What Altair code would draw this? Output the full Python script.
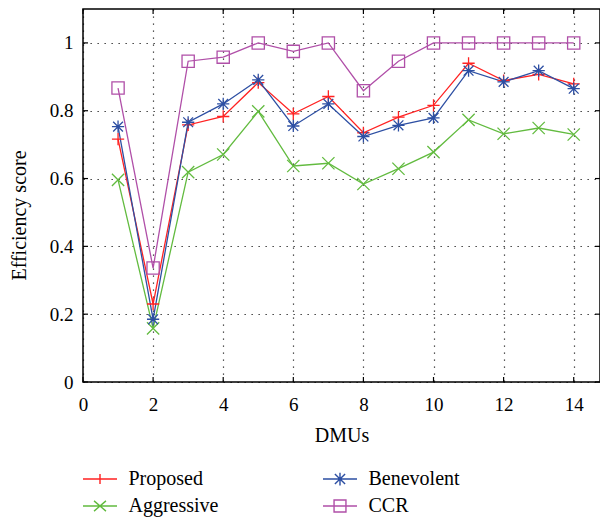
import altair as alt
import pandas as pd

# ---- data ----
dmus = [1, 2, 3, 4, 5, 6, 7, 8, 9, 10, 11, 12, 13, 14]
proposed = [0.716, 0.230, 0.758, 0.783, 0.883, 0.791, 0.842, 0.735, 0.781, 0.816, 0.940, 0.889, 0.907, 0.879]
aggressive = [0.596, 0.158, 0.619, 0.671, 0.798, 0.637, 0.645, 0.584, 0.629, 0.678, 0.773, 0.732, 0.749, 0.730]
benevolent = [0.753, 0.185, 0.766, 0.820, 0.891, 0.755, 0.820, 0.724, 0.757, 0.779, 0.918, 0.885, 0.918, 0.865]
ccr = [0.867, 0.336, 0.946, 0.958, 1.0, 0.975, 1.0, 0.859, 0.946, 1.0, 1.0, 1.0, 1.0, 1.0]

x_ticks = [0, 2, 4, 6, 8, 10, 12, 14]
y_ticks = [0, 0.2, 0.4, 0.6, 0.8, 1.0]

series = ["Proposed", "Aggressive", "Benevolent", "CCR"]
colors = ["#ff2222", "#62bb3f", "#2d4fa3", "#b04fa8"]

marker_paths = [
    "M-1,0L1,0M0,-1L0,1",                                   # plus
    "M-1,-1L1,1M-1,1L1,-1",                                 # cross
    "M-1,0L1,0M0,-1L0,1M-0.8,-0.8L0.8,0.8M-0.8,0.8L0.8,-0.8",  # asterisk
    "M-1,-1L1,-1L1,1L-1,1Z",                                # square
]
legend_paths = [
    "M-2,0L2,0M0,-0.6L0,0.6",
    "M-2,0L2,0M-0.7,-0.6L0.7,0.6M-0.7,0.6L0.7,-0.6",
    "M-2,0L2,0M0,-0.75L0,0.75M-0.6,-0.6L0.6,0.6M-0.6,0.6L0.6,-0.6",
    "M-2,0L2,0M-0.7,-0.7L0.7,-0.7L0.7,0.7L-0.7,0.7Z",
]

values = {"Proposed": proposed, "Aggressive": aggressive, "Benevolent": benevolent, "CCR": ccr}
rows = []
for s in ["Proposed", "Aggressive", "Benevolent", "CCR"]:
    for d, v in zip(dmus, values[s]):
        rows.append({"dmu": d, "score": v, "series": s})
df = pd.DataFrame(rows)

FONT = "Liberation Serif"
W, H = 517, 373

xscale = alt.Scale(domain=[0, 14.75], nice=False, zero=False)
yscale = alt.Scale(domain=[0, 1.1], nice=False)

xaxis = alt.Axis(values=x_ticks, grid=True, ticks=False, domain=False, title="DMUs",
                 labelFont=FONT, labelFontSize=19, labelColor="black", labelPadding=13,
                 labelFlush=False, labelOverlap=False,
                 titleFont=FONT, titleFontSize=20, titleFontWeight="normal", titleColor="black",
                 titlePadding=11,
                 gridColor="black", gridDash=[1.3, 5.7], gridWidth=1.2, gridOpacity=0.85)
yaxis = alt.Axis(values=y_ticks, grid=True, ticks=False, domain=False, title="Efficiency score",
                 format="~g",
                 labelFont=FONT, labelFontSize=19, labelColor="black", labelPadding=10,
                 titleFont=FONT, titleFontSize=20, titleFontWeight="normal", titleColor="black",
                 titleX=-58, titleY=206, titleAngle=270, titleAlign="center",
                 titleBaseline="alphabetic",
                 gridColor="black", gridDash=[1.3, 5.7], gridWidth=1.2, gridOpacity=0.85)

base = alt.Chart(df).encode(
    x=alt.X("dmu:Q", scale=xscale, axis=xaxis),
    y=alt.Y("score:Q", scale=yscale, axis=yaxis),
)

cscale = alt.Scale(domain=series, range=colors)

lines = base.mark_line(strokeWidth=1.3).encode(
    color=alt.Color("series:N", scale=cscale, legend=None)
)
points = base.mark_point(filled=False, size=150, strokeWidth=1.3, opacity=1).encode(
    color=alt.Color("series:N", scale=cscale, legend=None),
    shape=alt.Shape("series:N", scale=alt.Scale(domain=series, range=marker_paths), legend=None),
)

legend_kw = dict(orient="none", legendX=7, legendY=460, columns=2, columnPadding=101,
                 rowPadding=7, symbolSize=289, symbolStrokeWidth=1.4, symbolOpacity=1,
                 labelFont=FONT, labelFontSize=20, labelColor="black", labelOffset=18.5,
                 labelLimit=300, title=None, padding=0)

legend_layer = base.mark_point(filled=False, size=289, strokeWidth=1.4, opacity=0).encode(
    color=alt.Color("series:N", scale=cscale, legend=alt.Legend(**legend_kw)),
    shape=alt.Shape("series:N", scale=alt.Scale(domain=series, range=legend_paths),
                    legend=alt.Legend(**legend_kw)),
)

xt_df = pd.DataFrame({"xt": x_ticks})
yt_df = pd.DataFrame({"yt": y_ticks})
TL = 5
bottom_ticks = alt.Chart(xt_df).mark_rule(color="black", strokeWidth=1.2).encode(
    x=alt.X("xt:Q", scale=xscale, axis=xaxis), y=alt.value(H), y2=alt.value(H - TL))
top_ticks = alt.Chart(xt_df).mark_rule(color="black", strokeWidth=1.2).encode(
    x=alt.X("xt:Q", scale=xscale, axis=xaxis), y=alt.value(0), y2=alt.value(TL))
left_ticks = alt.Chart(yt_df).mark_rule(color="black", strokeWidth=1.2).encode(
    y=alt.Y("yt:Q", scale=yscale, axis=yaxis), x=alt.value(0), x2=alt.value(TL))
right_ticks = alt.Chart(yt_df).mark_rule(color="black", strokeWidth=1.2).encode(
    y=alt.Y("yt:Q", scale=yscale, axis=yaxis), x=alt.value(W), x2=alt.value(W - TL))

chart = alt.layer(
    lines, points, legend_layer, bottom_ticks, top_ticks, left_ticks, right_ticks
).resolve_scale(
    color="independent", shape="independent"
).properties(
    width=W, height=H,
    background="white",
    autosize=alt.AutoSizeParams(type="none"),
    padding={"left": 75, "top": 1, "right": 0, "bottom": 135},
).configure_view(
    stroke="black", strokeWidth=1.5
)

chart.save("out.html", embed_options={"renderer": "svg", "actions": False})
